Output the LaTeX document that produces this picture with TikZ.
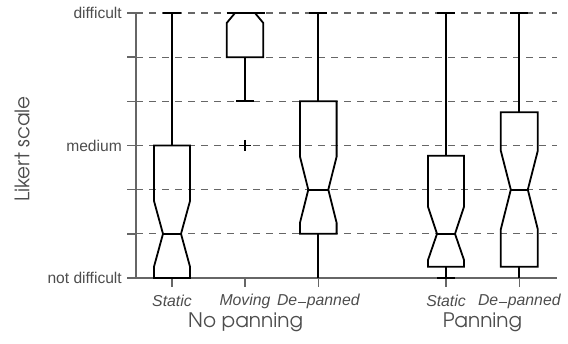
\documentclass[tikz,border=0pt]{standalone}
\usepackage{fontspec}
\setmainfont{Liberation Sans}
\newfontfamily\adv{TeX Gyre Adventor}
\definecolor{axgrey}{HTML}{666666}
\definecolor{txgrey}{HTML}{4D4D4D}
\tikzset{
  gridline/.style={axgrey, line width=1.1bp, dash pattern=on 6.5bp off 6.5bp},
  axisline/.style={axgrey, line width=1.5bp},
  boxline/.style={black, line width=1.8bp, line join=miter},
  whisk/.style={black, line width=1.8bp},
  ticklab/.style={anchor=east, inner sep=0pt, text=txgrey, font=\fontsize{15.6bp}{18bp}\selectfont},
  grplab/.style={inner sep=0pt, text=txgrey, font=\fontsize{15.8bp}{18bp}\selectfont\itshape},
  biglab/.style={inner sep=0pt, text=txgrey, font=\fontsize{20bp}{24bp}\selectfont\adv},
}
\begin{document}
\begin{tikzpicture}[x=1bp, y=-1bp]
\useasboundingbox (0,0) rectangle (568,343);
% levels
\foreach \k/\yy in {0/278,1/233.83,2/189.67,3/145.5,4/101.33,5/57.17,6/13} {
  \coordinate (L\k) at (136,\yy);
  \coordinate (R\k) at (557,\yy);
  \coordinate (T\k) at (127,\yy);
}
\foreach \k in {1,...,6} { \draw[gridline] (L\k) -- (R\k); }
\foreach \k in {0,...,6} { \draw[axisline] (T\k) -- (L\k); }
\draw[axisline] (L0) -- (L6);
\draw[axisline] (L0) -- (R0);
% bottom ticks
\foreach \n/\x in {a/172,b/245,c/318.3,d/446,e/519.3} {
  \coordinate (bt\n) at (\x,278);
  \coordinate (bb\n) at (\x,286.5);
  \draw[axisline] (bt\n) -- (bb\n);
}
% y labels
\node[ticklab] (ldiff) at (122,13) {difficult};
\node[ticklab] (lmed) at (122,145.5) {medium};
\node[ticklab] (lnot) at (122,278) {not difficult};
\node[biglab, rotate=90] (ylab) at (22,149) {Likert scale};
% group labels
\node[grplab] (gs1) at (172,301) {Static};
\node[grplab] (gm) at (245,301) {Moving};
\node[grplab] (gd1) at (318.3,301) {De\kern0.5pt\raisebox{0.3ex}{\rule{0.55em}{0.06em}}\kern0.5pt panned};
\node[grplab] (gs2) at (446,301) {Static};
\node[grplab] (gd2) at (519.3,301) {De\kern0.5pt\raisebox{0.3ex}{\rule{0.55em}{0.06em}}\kern0.5pt panned};
\node[biglab] (np) at (245.5,322) {No panning};
\node[biglab] (pn) at (482.5,322) {Panning};
% --- Static (no panning)
\draw[boxline] (154,145.5) -- (190,145.5) -- (190,201) -- (181,233.83) -- (190,266.7) -- (190,278) -- (154,278) -- (154,266.7) -- (163,233.83) -- (154,201) -- cycle;
\draw[boxline] (163,233.83) -- (181,233.83);
\draw[whisk] (172,145.5) -- (172,13);
\draw[whisk] (163,13) -- (181,13);
% --- Moving
\draw[boxline] (226.7,57.17) -- (263.3,57.17) -- (263.3,23) -- (255,13) -- (235,13) -- (226.7,23) -- cycle;
\draw[boxline] (226.7,13) -- (264.5,13);
\draw[whisk] (245,57.17) -- (245,101.33);
\draw[whisk] (236,101.33) -- (254,101.33);
\draw[whisk] (239.3,145.5) -- (250.7,145.5);
\draw[whisk] (245,139.8) -- (245,151.2);
% --- De-panned (no panning)
\draw[boxline] (300,101.33) -- (336.6,101.33) -- (336.6,156.7) -- (328.3,189.67) -- (336.6,222.7) -- (336.6,233.83) -- (300,233.83) -- (300,222.7) -- (308.3,189.67) -- (300,156.7) -- cycle;
\draw[boxline] (308.3,189.67) -- (328.3,189.67);
\draw[whisk] (318.3,101.33) -- (318.3,13);
\draw[whisk] (309.3,13) -- (327.3,13);
\draw[whisk] (318.3,233.83) -- (318.3,278);
% --- Static (panning)
\draw[boxline] (428,155.7) -- (464,155.7) -- (464,206.7) -- (455,233.83) -- (464,260) -- (464,266.7) -- (428,266.7) -- (428,260) -- (437,233.83) -- (428,206.7) -- cycle;
\draw[boxline] (437,233.83) -- (455,233.83);
\draw[whisk] (446,155.7) -- (446,13);
\draw[whisk] (437,13) -- (455,13);
\draw[whisk] (446,266.7) -- (446,278);
\draw[whisk] (437,278) -- (455,278);
% --- De-panned (panning)
\draw[boxline] (500.8,112.3) -- (537.8,112.3) -- (537.8,150.7) -- (527.8,189.67) -- (537.8,229.3) -- (537.8,266.7) -- (500.8,266.7) -- (500.8,229.3) -- (510.8,189.67) -- (500.8,150.7) -- cycle;
\draw[boxline] (510.8,189.67) -- (527.8,189.67);
\draw[whisk] (519.3,112.3) -- (519.3,13);
\draw[whisk] (510.3,13) -- (528.3,13);
\draw[whisk] (519.3,266.7) -- (519.3,278);
\end{tikzpicture}
\end{document}
